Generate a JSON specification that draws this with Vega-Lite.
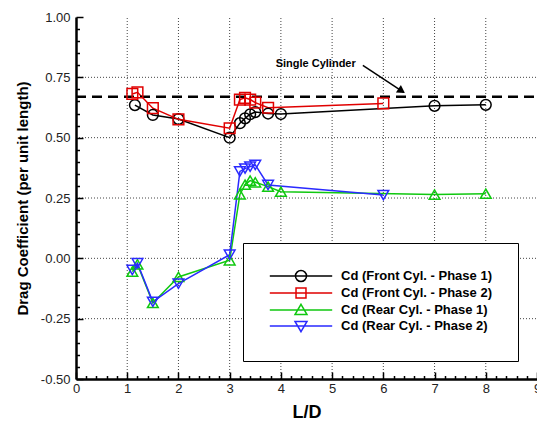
{
  "$schema": "https://vega.github.io/schema/vega-lite/v6.json",
  "width": 461,
  "height": 362,
  "autosize": {"type": "none"},
  "padding": {"left": 76, "top": 17, "right": 0, "bottom": 44},
  "config": {"view": {"stroke": null}, "font": "Liberation Sans"},
  "datasets": {
    "cd": [
      {"series": "F1", "x": 1.15, "y": 0.635},
      {"series": "F1", "x": 1.5, "y": 0.594},
      {"series": "F1", "x": 2.0, "y": 0.577},
      {"series": "F1", "x": 3.0, "y": 0.5},
      {"series": "F1", "x": 3.2, "y": 0.56},
      {"series": "F1", "x": 3.3, "y": 0.58},
      {"series": "F1", "x": 3.4, "y": 0.597},
      {"series": "F1", "x": 3.5, "y": 0.606},
      {"series": "F1", "x": 3.75, "y": 0.6},
      {"series": "F1", "x": 4.0, "y": 0.598},
      {"series": "F1", "x": 7.0, "y": 0.632},
      {"series": "F1", "x": 8.0, "y": 0.636},
      {"series": "F2", "x": 1.1, "y": 0.681},
      {"series": "F2", "x": 1.2, "y": 0.688},
      {"series": "F2", "x": 1.5, "y": 0.622},
      {"series": "F2", "x": 2.0, "y": 0.576},
      {"series": "F2", "x": 3.0, "y": 0.539},
      {"series": "F2", "x": 3.2, "y": 0.658},
      {"series": "F2", "x": 3.3, "y": 0.665},
      {"series": "F2", "x": 3.4, "y": 0.658},
      {"series": "F2", "x": 3.5, "y": 0.645},
      {"series": "F2", "x": 3.75, "y": 0.624},
      {"series": "F2", "x": 6.0, "y": 0.642},
      {"series": "R1", "x": 1.1, "y": -0.055},
      {"series": "R1", "x": 1.2, "y": -0.025},
      {"series": "R1", "x": 1.5, "y": -0.185},
      {"series": "R1", "x": 2.0, "y": -0.077},
      {"series": "R1", "x": 3.0, "y": -0.008},
      {"series": "R1", "x": 3.2, "y": 0.265},
      {"series": "R1", "x": 3.3, "y": 0.305},
      {"series": "R1", "x": 3.4, "y": 0.322},
      {"series": "R1", "x": 3.5, "y": 0.315},
      {"series": "R1", "x": 3.75, "y": 0.297},
      {"series": "R1", "x": 4.0, "y": 0.276},
      {"series": "R1", "x": 7.0, "y": 0.264},
      {"series": "R1", "x": 8.0, "y": 0.268},
      {"series": "R2", "x": 1.1, "y": -0.048},
      {"series": "R2", "x": 1.2, "y": -0.02},
      {"series": "R2", "x": 1.5, "y": -0.18},
      {"series": "R2", "x": 2.0, "y": -0.105},
      {"series": "R2", "x": 3.0, "y": 0.015},
      {"series": "R2", "x": 3.2, "y": 0.36},
      {"series": "R2", "x": 3.3, "y": 0.372},
      {"series": "R2", "x": 3.4, "y": 0.38},
      {"series": "R2", "x": 3.5, "y": 0.387},
      {"series": "R2", "x": 3.75, "y": 0.304},
      {"series": "R2", "x": 6.0, "y": 0.262}
    ],
    "vgrid": [
      {"x": 1, "y": -0.5, "y2": 1}, {"x": 2, "y": -0.5, "y2": 1}, {"x": 3, "y": -0.5, "y2": 1}, {"x": 4, "y": -0.5, "y2": 1},
      {"x": 5, "y": -0.5, "y2": 1}, {"x": 6, "y": -0.5, "y2": 1}, {"x": 7, "y": -0.5, "y2": 1}, {"x": 8, "y": -0.5, "y2": 1}
    ],
    "hgrid": [
      {"y": -0.25, "x": 0, "x2": 9}, {"y": 0, "x": 0, "x2": 9}, {"y": 0.25, "x": 0, "x2": 9},
      {"y": 0.5, "x": 0, "x2": 9}, {"y": 0.75, "x": 0, "x2": 9}
    ],
    "ref": [{"x": 0, "x2": 9, "y": 0.67}],
    "note": [{"label": "Single Cylinder", "x": 4.68, "y": 0.805}],
    "arrow": [{"x": 5.6, "y": 0.8, "x2": 6.4, "y2": 0.688}],
    "head": [{"x": 6.357, "y": 0.694}]
  },
  "encoding": {
    "x": {
      "field": "x", "type": "quantitative",
      "scale": {"domain": [0, 9], "nice": false, "zero": false},
      "axis": {
        "title": "L/D",
        "values": [0,0.2,0.4,0.6,0.8,1,1.2,1.4,1.6,1.8,2,2.2,2.4,2.6,2.8,3,3.2,3.4,3.6,3.8,4,4.2,4.4,4.6,4.8,5,5.2,5.4,5.6,5.8,6,6.2,6.4,6.6,6.8,7,7.2,7.4,7.6,7.8,8,8.2,8.4,8.6,8.8,9],
        "labelExpr": "abs(datum.value-round(datum.value))<0.001 ? ('' + round(datum.value)) : ''",
        "tickSize": {"condition": {"test": "abs(datum.value-round(datum.value))<0.001", "value": -7}, "value": -3.5},
        "grid": false,
        "domainColor": "black", "domainWidth": 2.5,
        "tickColor": "black", "tickWidth": 1.5,
        "labelFontSize": 13, "labelColor": "#222", "labelPadding": 10,
        "labelFlush": false, "labelOverlap": false, "labelBound": false,
        "titleFontSize": 18, "titleFontWeight": "bold", "titleColor": "black", "titlePadding": 5,
        "zindex": 1
      }
    },
    "y": {
      "field": "y", "type": "quantitative",
      "scale": {"domain": [-0.5, 1.0], "nice": false, "zero": false},
      "axis": {
        "title": "Drag Coefficient (per unit length)",
        "values": [-0.5,-0.45,-0.4,-0.35,-0.3,-0.25,-0.2,-0.15,-0.1,-0.05,0,0.05,0.1,0.15,0.2,0.25,0.3,0.35,0.4,0.45,0.5,0.55,0.6,0.65,0.7,0.75,0.8,0.85,0.9,0.95,1],
        "labelExpr": "abs(datum.value*4-round(datum.value*4))<0.001 ? ((datum.value<0 ? '-' : '') + format(abs(datum.value), '.2f')) : ''",
        "tickSize": {"condition": {"test": "abs(datum.value*4-round(datum.value*4))<0.001", "value": -7}, "value": -3.5},
        "grid": false,
        "domainColor": "black", "domainWidth": 2.5,
        "tickColor": "black", "tickWidth": 1.5,
        "labelFontSize": 13, "labelColor": "#222", "labelPadding": 13,
        "labelFlush": false, "labelOverlap": false, "labelBound": false,
        "titleFontSize": 15, "titleFontWeight": "bold", "titleColor": "black", "titlePadding": 10,
        "zindex": 1
      }
    }
  },
  "layer": [
    {
      "layer": [
        {
          "data": {"name": "vgrid"},
          "mark": {"type": "rule", "color": "#444444", "strokeDash": [1, 2], "strokeWidth": 1},
          "encoding": {"y2": {"field": "y2"}}
        },
        {
          "data": {"name": "hgrid"},
          "mark": {"type": "rule", "color": "#444444", "strokeDash": [1, 2], "strokeWidth": 1},
          "encoding": {"x2": {"field": "x2"}}
        },
        {
          "data": {"name": "cd"},
          "mark": {"type": "line", "strokeWidth": 1.5},
          "encoding": {
            "color": {
              "field": "series", "type": "nominal", "legend": null,
              "scale": {"domain": ["F1", "F2", "R1", "R2"], "range": ["#000000", "#e00000", "#10c810", "#2a2aff"]}
            }
          }
        },
        {
          "data": {"name": "ref"},
          "mark": {"type": "rule", "color": "black", "strokeDash": [10, 6], "strokeWidth": 2.5},
          "encoding": {"x2": {"field": "x2"}}
        },
        {
          "data": {"name": "cd"},
          "mark": {"type": "point", "filled": false, "size": 115, "strokeWidth": 1.5, "opacity": 1},
          "encoding": {
            "color": {"field": "series", "type": "nominal", "legend": null},
            "shape": {
              "field": "series", "type": "nominal", "legend": null,
              "scale": {"domain": ["F1", "F2", "R1", "R2"], "range": ["circle", "square", "triangle-up", "triangle-down"]}
            }
          }
        },
        {
          "data": {"name": "arrow"},
          "mark": {"type": "rule", "color": "black", "strokeWidth": 1.5},
          "encoding": {
            "x2": {"field": "x2"},
            "y2": {"field": "y2"}
          }
        },
        {
          "data": {"name": "head"},
          "mark": {"type": "point", "shape": "triangle-right", "filled": true, "color": "black", "size": 80, "angle": 34, "opacity": 1}
        },
        {
          "data": {"name": "note"},
          "mark": {"type": "text", "fontWeight": "bold", "fontSize": 11, "color": "black", "align": "center", "baseline": "middle"},
          "encoding": {
            "text": {"field": "label"}
          }
        }
      ]
    },
    {
      "data": {"name": "cd"},
      "mark": {"type": "point", "filled": false, "size": 144, "strokeWidth": 1.5, "opacity": 0},
      "encoding": {
        "color": {
          "field": "series", "type": "nominal",
          "scale": {"domain": ["F1", "F2", "R1", "R2"], "range": ["#000000", "#e00000", "#10c810", "#2a2aff"]},
          "legend": {
            "orient": "none", "legendX": 167, "legendY": 226, "title": null,
            "fillColor": "white", "strokeColor": "black", "padding": 26,
            "symbolSize": 144, "symbolStrokeWidth": 1.5, "symbolOffset": 25, "symbolOpacity": 1,
            "labelOffset": 33, "labelFontSize": 13, "labelFontWeight": "bold", "labelColor": "black",
            "labelLimit": 0, "rowPadding": 0,
            "labelExpr": "datum.label=='F1' ? 'Cd (Front Cyl. - Phase 1)' : datum.label=='F2' ? 'Cd (Front Cyl. - Phase 2)' : datum.label=='R1' ? 'Cd (Rear Cyl. - Phase 1)' : 'Cd (Rear Cyl. - Phase 2)'"
          }
        },
        "shape": {
          "field": "series", "type": "nominal",
          "scale": {"domain": ["F1", "F2", "R1", "R2"], "range": [
            "M-5.2,0H5.2M0.92,0A0.92,0.92,0,1,1,-0.92,0A0.92,0.92,0,1,1,0.92,0Z",
            "M-5.2,0H5.2M-0.83,-0.83H0.83V0.83H-0.83Z",
            "M-5.2,0H5.2M0,-0.95L1,0.75L-1,0.75Z",
            "M-5.2,0H5.2M0,0.95L1,-0.75L-1,-0.75Z"
          ]},
          "legend": {
            "orient": "none", "legendX": 167, "legendY": 226, "title": null,
            "fillColor": "white", "strokeColor": "black", "padding": 26,
            "symbolSize": 144, "symbolStrokeWidth": 1.5, "symbolOffset": 25, "symbolOpacity": 1,
            "labelOffset": 33, "labelFontSize": 13, "labelFontWeight": "bold", "labelColor": "black",
            "labelLimit": 0, "rowPadding": 0,
            "labelExpr": "datum.label=='F1' ? 'Cd (Front Cyl. - Phase 1)' : datum.label=='F2' ? 'Cd (Front Cyl. - Phase 2)' : datum.label=='R1' ? 'Cd (Rear Cyl. - Phase 1)' : 'Cd (Rear Cyl. - Phase 2)'"
          }
        }
      }
    }
  ],
  "resolve": {"scale": {"color": "independent", "shape": "independent"}}
}
